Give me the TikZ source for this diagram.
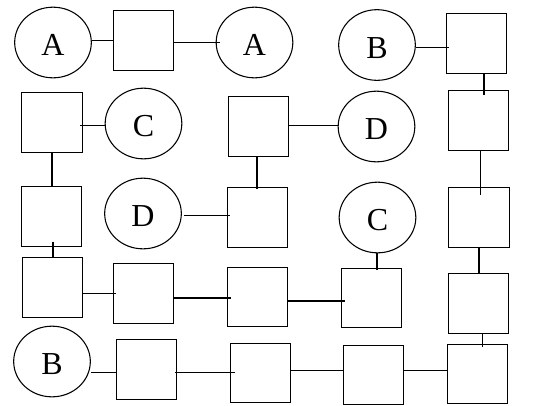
\documentclass[tikz,border=0pt]{standalone}
\usepackage{fontspec}
\setmainfont{Liberation Serif}
\usetikzlibrary{shapes.geometric, calc}
\tikzstyle{box}=[rectangle, draw=black, line width=0.8pt, minimum width=45.5pt, minimum height=44.5pt, inner sep=0pt]
\tikzstyle{letter}=[ellipse, draw=black, line width=0.8pt, minimum width=57.5pt, minimum height=53pt, inner sep=0pt,
	text height=20pt, text depth=0pt, font=\fontsize{24}{28}\selectfont]
\tikzstyle{wire}=[line width=0.8pt]

\begin{document}
\begin{tikzpicture}[x=0.75pt, y=-0.75pt]
			\useasboundingbox (0,0) rectangle (540,405);
			\foreach \n/\t/\x/\y in {A1/A/53/42.5, A2/A/254.5/42.5, B1/B/377/45, C1/C/143.5/123.5, D1/D/376.5/126.5,
				D2/D/143/213.5, C2/C/377.5/217.5, B2/B/52/361.5}{
				\node[letter] (\n) at (\x,\y) {\t};
			}
			\foreach \n/\x/\y in {S1/143.5/40.5, S2/476.5/43.5, S3/52/122.5, S4/258.5/126.5, S5/478.5/120.5,
				S6/51.5/216.5, S7/257.5/217.5, S8/479/217.5, S9/52.5/287.5, S10/143.5/293.5, S11/257.5/297,
				S12/371.5/298, S13/478.5/303.5, S14/146.5/369.5, S15/260.5/373, S16/373.5/375, S17/477.5/374}{
				\node[box] (\n) at (\x,\y) {};
			}
			% side by side
			\foreach \a/\b/\y/\s/\e in {A1/S1/40.7/0/0, S1/A2/42.3/0/4, B1/S2/47.7/0/3, S3/C1/125.7/-3/0,
				S4/D1/125.7/0/0, D2/S7/215.7/2/3, S9/S10/293.7/-1/3, S10/S11/298/0/4, S11/S12/301/0/4,
				B2/S14/372.3/0/0, S14/S15/372.7/-2/5, S15/S16/370.7/0/0, S16/S17/370.7/0/0}{
				\draw[wire] ($(\a.east |- 0,\y)+(\s,0)$) -- ($(\b.west |- 0,\y)+(\e,0)$);
			}
			% one above the other
			\foreach \a/\b/\x/\s/\e in {S2/S5/484/0/5, S3/S6/52/0/0, S4/S7/257/0/2, S5/S8/480.5/0/8,
				S6/S9/53/-5/0, C2/S12/377/0/2, S8/S13/479/0/0, S13/S17/482.5/0/3}{
				\draw[wire] ($(\a.south -| \x,0)+(0,\s)$) -- ($(\b.north -| \x,0)+(0,\e)$);
			}
		\end{tikzpicture}
\end{document}
